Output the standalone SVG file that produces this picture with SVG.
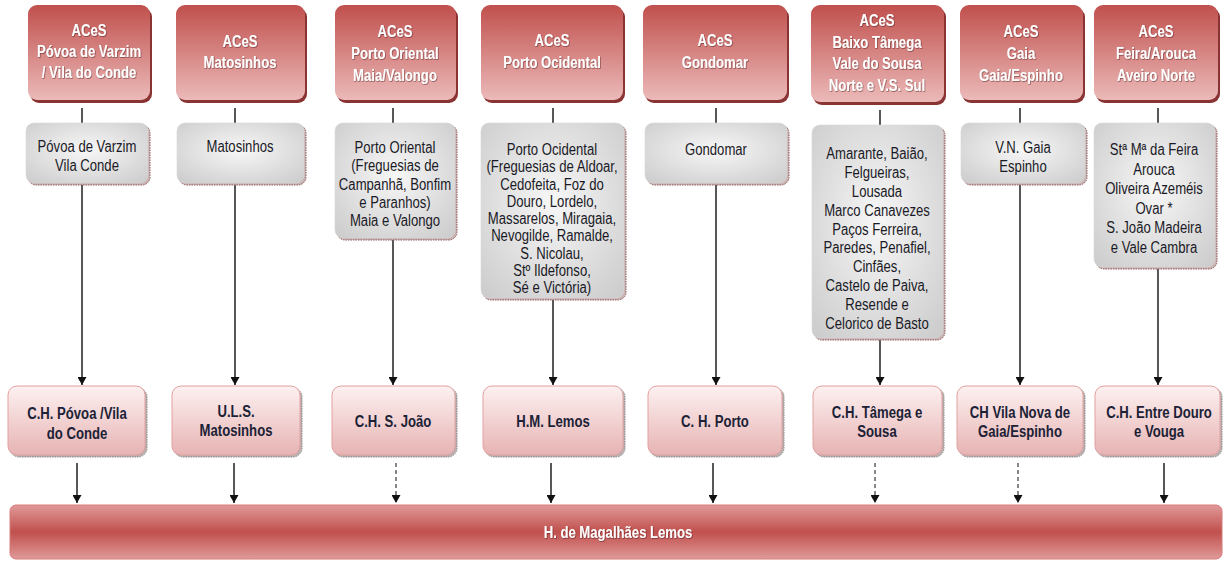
<svg xmlns="http://www.w3.org/2000/svg" width="1224" height="562" viewBox="0 0 1224 562">
<defs>
<linearGradient id="redG" x1="0" y1="0" x2="0" y2="1"><stop offset="0" stop-color="#c0504d"/><stop offset="1" stop-color="#ebbab9"/></linearGradient>
<radialGradient id="grayG" cx="0.5" cy="0.45" r="0.7"><stop offset="0" stop-color="#f7f7f7"/><stop offset="1" stop-color="#cdcdcd"/></radialGradient>
<linearGradient id="pinkG" x1="0" y1="0" x2="0" y2="1"><stop offset="0" stop-color="#fdf1f1"/><stop offset="1" stop-color="#e7b3b3"/></linearGradient>
<linearGradient id="barG" x1="0" y1="0" x2="0" y2="1"><stop offset="0" stop-color="#e09a99"/><stop offset="0.5" stop-color="#c0504d"/><stop offset="1" stop-color="#e09a99"/></linearGradient>
<filter id="ts" x="-10%" y="-30%" width="120%" height="160%"><feDropShadow dx="0.8" dy="0.8" stdDeviation="0.4" flood-color="#4a1010" flood-opacity="0.6"/></filter>
<marker id="ah" viewBox="0 0 8 9" markerWidth="8" markerHeight="9" refX="8" refY="4.5" orient="auto" markerUnits="userSpaceOnUse"><path d="M0,0 L8,4.5 L0,9 z" fill="#111"/></marker>
</defs>
<style>
.t{font-family:"Liberation Sans",Arial,sans-serif;font-size:16px;text-anchor:middle}
.tw{fill:#fff;font-weight:bold;filter:url(#ts)}
.tg{fill:#1a1a26}
.tb{fill:#1c2236;font-weight:bold}
.rs{fill:#8a3333}
.rb{fill:url(#redG)}
.gs{fill:#c9b3b3;stroke:#8d5a5a;stroke-width:1;stroke-dasharray:1.5 1}
.gb{fill:url(#grayG);stroke:#d8d8d8;stroke-width:0.6}
.ps{fill:#bcb0b0;stroke:#888;stroke-width:1;stroke-dasharray:1.5 1}
.pb{fill:url(#pinkG);stroke:#e2a0a0;stroke-width:1}
.ar{stroke:#111;stroke-width:1.4;fill:none;marker-end:url(#ah)}
.da{stroke:#555;stroke-width:1.4;fill:none;stroke-dasharray:4 3;marker-end:url(#ah)}
</style>
<g id="connectors">
<line class="ar" x1="82" y1="108" x2="82" y2="385"/>
<line class="ar" x1="235" y1="108" x2="235" y2="385"/>
<line class="ar" x1="393" y1="108" x2="393" y2="385"/>
<line class="ar" x1="553" y1="108" x2="553" y2="385"/>
<line class="ar" x1="716" y1="108" x2="716" y2="385"/>
<line class="ar" x1="880" y1="110" x2="880" y2="385"/>
<line class="ar" x1="1020" y1="108" x2="1020" y2="385"/>
<line class="ar" x1="1158" y1="108" x2="1158" y2="385"/>
<line class="ar" x1="77" y1="463" x2="77" y2="503"/>
<line class="ar" x1="234" y1="463" x2="234" y2="503"/>
<line class="da" x1="396" y1="463" x2="396" y2="503"/>
<line class="ar" x1="551" y1="463" x2="551" y2="503"/>
<line class="ar" x1="713" y1="463" x2="713" y2="503"/>
<line class="da" x1="875" y1="463" x2="875" y2="503"/>
<line class="da" x1="1018" y1="463" x2="1018" y2="503"/>
<line class="ar" x1="1164" y1="463" x2="1164" y2="503"/>
</g>
<g id="aces1"><rect class="rs" x="30" y="8" width="122" height="95" rx="9"/><rect class="rb" x="28" y="5" width="122" height="95" rx="9"/>
<text class="t tw" transform="translate(89 0) scale(0.82 1)"><tspan x="0" y="36">ACeS</tspan><tspan x="0" y="57">Póvoa de Varzim</tspan><tspan x="0" y="78">/ Vila do Conde</tspan></text></g>
<g id="aces2"><rect class="rs" x="178" y="8" width="129" height="95" rx="9"/><rect class="rb" x="176" y="5" width="129" height="95" rx="9"/>
<text class="t tw" transform="translate(240 0) scale(0.82 1)"><tspan x="0" y="47">ACeS</tspan><tspan x="0" y="68">Matosinhos</tspan></text></g>
<g id="aces3"><rect class="rs" x="337" y="8" width="121" height="95" rx="9"/><rect class="rb" x="335" y="5" width="121" height="95" rx="9"/>
<text class="t tw" transform="translate(395 0) scale(0.82 1)"><tspan x="0" y="37">ACeS</tspan><tspan x="0" y="59">Porto Oriental</tspan><tspan x="0" y="81">Maia/Valongo</tspan></text></g>
<g id="aces4"><rect class="rs" x="483" y="8" width="142" height="95" rx="9"/><rect class="rb" x="481" y="5" width="142" height="95" rx="9"/>
<text class="t tw" transform="translate(552 0) scale(0.82 1)"><tspan x="0" y="46">ACeS</tspan><tspan x="0" y="68">Porto Ocidental</tspan></text></g>
<g id="aces5"><rect class="rs" x="645" y="8" width="144" height="95" rx="9"/><rect class="rb" x="643" y="5" width="144" height="95" rx="9"/>
<text class="t tw" transform="translate(715 0) scale(0.82 1)"><tspan x="0" y="46">ACeS</tspan><tspan x="0" y="68">Gondomar</tspan></text></g>
<g id="aces6"><rect class="rs" x="813" y="8" width="133" height="97" rx="9"/><rect class="rb" x="811" y="5" width="133" height="97" rx="9"/>
<text class="t tw" transform="translate(877 0) scale(0.82 1)"><tspan x="0" y="26">ACeS</tspan><tspan x="0" y="48">Baixo Tâmega</tspan><tspan x="0" y="69">Vale do Sousa</tspan><tspan x="0" y="91">Norte e V.S. Sul</tspan></text></g>
<g id="aces7"><rect class="rs" x="962" y="8" width="123" height="95" rx="9"/><rect class="rb" x="960" y="5" width="123" height="95" rx="9"/>
<text class="t tw" transform="translate(1021 0) scale(0.82 1)"><tspan x="0" y="37">ACeS</tspan><tspan x="0" y="59">Gaia</tspan><tspan x="0" y="81">Gaia/Espinho</tspan></text></g>
<g id="aces8"><rect class="rs" x="1096" y="8" width="124" height="95" rx="9"/><rect class="rb" x="1094" y="5" width="124" height="95" rx="9"/>
<text class="t tw" transform="translate(1156 0) scale(0.82 1)"><tspan x="0" y="37">ACeS</tspan><tspan x="0" y="59">Feira/Arouca</tspan><tspan x="0" y="81">Aveiro Norte</tspan></text></g>
<g id="area1"><rect class="gs" x="28" y="125" width="122" height="60" rx="8"/><rect class="gb" x="26" y="123" width="122" height="60" rx="8"/>
<text class="t tg" transform="translate(87 0) scale(0.82 1)"><tspan x="0" y="152">Póvoa de Varzim</tspan><tspan x="0" y="171">Vila Conde</tspan></text></g>
<g id="area2"><rect class="gs" x="179" y="125" width="127" height="60" rx="8"/><rect class="gb" x="177" y="123" width="127" height="60" rx="8"/>
<text class="t tg" transform="translate(240 0) scale(0.82 1)"><tspan x="0" y="152">Matosinhos</tspan></text></g>
<g id="area3"><rect class="gs" x="337" y="125" width="120" height="115" rx="8"/><rect class="gb" x="335" y="123" width="120" height="115" rx="8"/>
<text class="t tg" transform="translate(395 0) scale(0.82 1)"><tspan x="0" y="153">Porto Oriental</tspan><tspan x="0" y="171.3">(Freguesias de</tspan><tspan x="0" y="189.6">Campanhã, Bonfim</tspan><tspan x="0" y="207.9">e Paranhos)</tspan><tspan x="0" y="226.2">Maia e Valongo</tspan></text></g>
<g id="area4"><rect class="gs" x="483" y="125" width="143" height="175" rx="8"/><rect class="gb" x="481" y="123" width="143" height="175" rx="8"/>
<text class="t tg" transform="translate(552 0) scale(0.82 1)"><tspan x="0" y="155">Porto Ocidental</tspan><tspan x="0" y="172.3">(Freguesias de Aldoar,</tspan><tspan x="0" y="189.6">Cedofeita, Foz do</tspan><tspan x="0" y="206.9">Douro, Lordelo,</tspan><tspan x="0" y="224.2">Massarelos, Miragaia,</tspan><tspan x="0" y="241.5">Nevogilde, Ramalde,</tspan><tspan x="0" y="258.8">S. Nicolau,</tspan><tspan x="0" y="276.1">Stº Ildefonso,</tspan><tspan x="0" y="293.4">Sé e Victória)</tspan></text></g>
<g id="area5"><rect class="gs" x="647" y="125" width="142" height="60" rx="8"/><rect class="gb" x="645" y="123" width="142" height="60" rx="8"/>
<text class="t tg" transform="translate(716 0) scale(0.82 1)"><tspan x="0" y="155">Gondomar</tspan></text></g>
<g id="area6"><rect class="gs" x="814" y="127" width="131" height="213" rx="8"/><rect class="gb" x="812" y="125" width="131" height="213" rx="8"/>
<text class="t tg" transform="translate(877 0) scale(0.82 1)"><tspan x="0" y="159">Amarante, Baião,</tspan><tspan x="0" y="177.9">Felgueiras,</tspan><tspan x="0" y="196.8">Lousada</tspan><tspan x="0" y="215.7">Marco Canavezes</tspan><tspan x="0" y="234.6">Paços Ferreira,</tspan><tspan x="0" y="253.5">Paredes, Penafiel,</tspan><tspan x="0" y="272.4">Cinfães,</tspan><tspan x="0" y="291.3">Castelo de Paiva,</tspan><tspan x="0" y="310.2">Resende e</tspan><tspan x="0" y="329.1">Celorico de Basto</tspan></text></g>
<g id="area7"><rect class="gs" x="963" y="125" width="124" height="60" rx="8"/><rect class="gb" x="961" y="123" width="124" height="60" rx="8"/>
<text class="t tg" transform="translate(1023 0) scale(0.82 1)"><tspan x="0" y="153">V.N. Gaia</tspan><tspan x="0" y="172">Espinho</tspan></text></g>
<g id="area8"><rect class="gs" x="1096" y="125" width="121" height="144" rx="8"/><rect class="gb" x="1094" y="123" width="121" height="144" rx="8"/>
<text class="t tg" transform="translate(1154 0) scale(0.82 1)"><tspan x="0" y="155">Stª Mª da Feira</tspan><tspan x="0" y="174.6">Arouca</tspan><tspan x="0" y="194.2">Oliveira Azeméis</tspan><tspan x="0" y="213.8">Ovar *</tspan><tspan x="0" y="233.4">S. João Madeira</tspan><tspan x="0" y="253">e Vale Cambra</tspan></text></g>
<g id="hosp1"><rect class="ps" x="10" y="388" width="137" height="69" rx="9"/><rect class="pb" x="8" y="386" width="137" height="69" rx="9"/>
<text class="t tb" transform="translate(77 0) scale(0.82 1)"><tspan x="0" y="419">C.H. Póvoa /Vila</tspan><tspan x="0" y="439">do Conde</tspan></text></g>
<g id="hosp2"><rect class="ps" x="174" y="388" width="128" height="69" rx="9"/><rect class="pb" x="172" y="386" width="128" height="69" rx="9"/>
<text class="t tb" transform="translate(236 0) scale(0.82 1)"><tspan x="0" y="417">U.L.S.</tspan><tspan x="0" y="436">Matosinhos</tspan></text></g>
<g id="hosp3"><rect class="ps" x="334" y="388" width="123" height="69" rx="9"/><rect class="pb" x="332" y="386" width="123" height="69" rx="9"/>
<text class="t tb" transform="translate(393 0) scale(0.82 1)"><tspan x="0" y="427">C.H. S. João</tspan></text></g>
<g id="hosp4"><rect class="ps" x="485" y="388" width="140" height="69" rx="9"/><rect class="pb" x="483" y="386" width="140" height="69" rx="9"/>
<text class="t tb" transform="translate(553 0) scale(0.82 1)"><tspan x="0" y="427">H.M. Lemos</tspan></text></g>
<g id="hosp5"><rect class="ps" x="650" y="388" width="134" height="69" rx="9"/><rect class="pb" x="648" y="386" width="134" height="69" rx="9"/>
<text class="t tb" transform="translate(715 0) scale(0.82 1)"><tspan x="0" y="427">C. H. Porto</tspan></text></g>
<g id="hosp6"><rect class="ps" x="815" y="388" width="129" height="69" rx="9"/><rect class="pb" x="813" y="386" width="129" height="69" rx="9"/>
<text class="t tb" transform="translate(877 0) scale(0.82 1)"><tspan x="0" y="418">C.H. Tâmega e</tspan><tspan x="0" y="437">Sousa</tspan></text></g>
<g id="hosp7"><rect class="ps" x="959" y="388" width="126" height="69" rx="9"/><rect class="pb" x="957" y="386" width="126" height="69" rx="9"/>
<text class="t tb" transform="translate(1020 0) scale(0.82 1)"><tspan x="0" y="418">CH Vila Nova de</tspan><tspan x="0" y="437">Gaia/Espinho</tspan></text></g>
<g id="hosp8"><rect class="ps" x="1097" y="388" width="125" height="69" rx="9"/><rect class="pb" x="1095" y="386" width="125" height="69" rx="9"/>
<text class="t tb" transform="translate(1159 0) scale(0.82 1)"><tspan x="0" y="418">C.H. Entre Douro</tspan><tspan x="0" y="437">e Vouga</tspan></text></g>
<g id="hml"><rect x="10" y="505" width="1212" height="54" rx="6" fill="url(#barG)" stroke="#d47d7b" stroke-width="1"/>
<text class="t tw" transform="translate(618 0) scale(0.82 1)" x="0" y="538">H. de Magalhães Lemos</text></g>
</svg>
